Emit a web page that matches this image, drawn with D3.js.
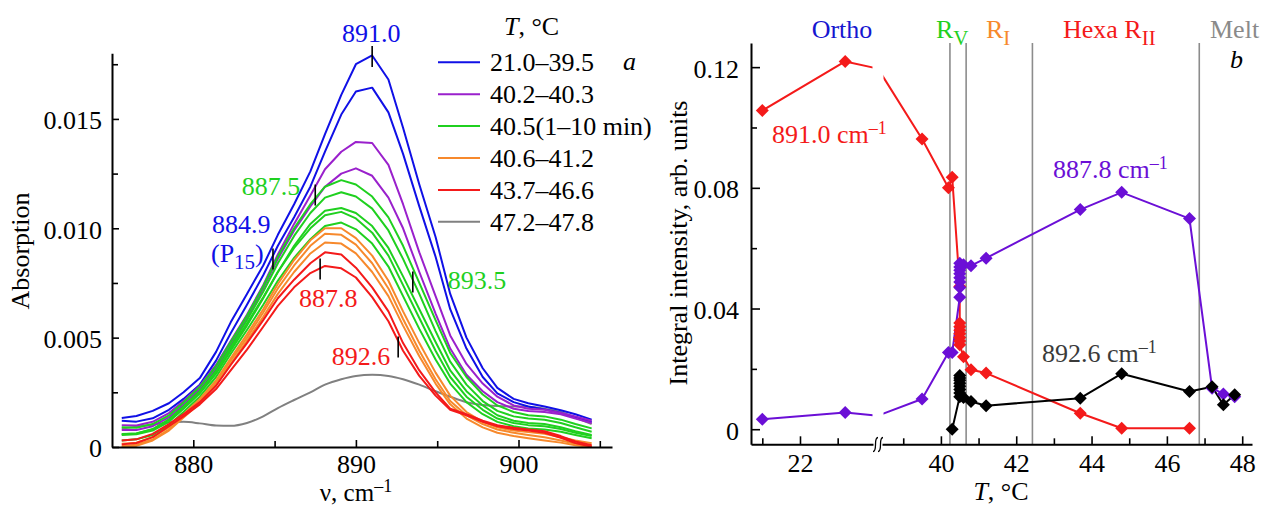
<!DOCTYPE html>
<html>
<head>
<meta charset="utf-8">
<script src="https://cdn.jsdelivr.net/npm/d3@7"></script>
<style>
  html, body { margin: 0; padding: 0; background: #fff; }
  svg { display: block; }
  svg text { font-family: "Liberation Serif", "Times New Roman", serif; }
</style>
</head>
<body>
<svg id="chart" width="1262" height="506"></svg>
<script>
// ---------- Panel a: absorption spectra (absorbance × 10³) ----------
const wavenumbers = [875.6, 876.5, 877.5, 878.5, 879.4, 880.4, 881.4, 882.3, 883.3, 884.3,
  885.2, 886.2, 887.2, 888.1, 889.1, 890.0, 891.0, 892.0, 892.9, 893.9,
  894.9, 895.8, 896.8, 897.8, 898.7, 899.7, 900.6, 901.6, 902.6, 903.5, 904.5];

const legendLabels = ["21.0–39.5", "40.2–40.3", "40.5(1–10 min)", "40.6–41.2", "43.7–46.6", "47.2–47.8"];

const blueSpectra = [
  [1.33,1.42,1.65,2.00,2.50,3.15,4.35,5.70,7.00,8.30,9.70,11.10,12.60,14.30,16.10,17.50,17.90,16.80,14.60,12.00,9.60,7.00,5.00,3.60,2.70,2.20,2.00,1.85,1.68,1.50,1.25],
  [1.20,1.16,1.31,1.70,2.20,2.85,3.95,5.20,6.50,7.85,9.20,10.50,11.90,13.50,15.20,16.25,16.43,15.30,13.40,11.00,8.70,6.30,4.50,3.20,2.45,2.05,1.85,1.72,1.55,1.35,1.15]
];
const purpleSpectra = [
  [1.00,0.98,1.15,1.55,2.10,2.80,3.75,4.85,6.05,7.40,8.80,10.20,11.50,12.70,13.50,13.95,13.90,12.90,11.10,8.90,6.90,5.10,3.80,2.90,2.30,1.90,1.75,1.70,1.55,1.40,1.20],
  [0.78,0.78,0.95,1.35,1.95,2.65,3.60,4.70,5.90,7.25,8.60,9.90,11.00,11.90,12.50,12.74,12.40,11.40,10.00,8.00,6.10,4.50,3.30,2.55,2.05,1.75,1.65,1.60,1.50,1.30,1.10]
];
const greenSpectra = [
  [0.90,0.88,1.05,1.45,2.05,2.75,3.70,4.80,6.00,7.35,8.70,10.00,11.10,11.90,12.20,12.00,11.45,10.50,9.20,7.50,5.80,4.30,3.20,2.40,1.90,1.60,1.45,1.40,1.25,1.05,0.85],
  [0.60,0.62,0.80,1.25,1.85,2.55,3.50,4.60,5.80,7.10,8.40,9.65,10.70,11.40,11.65,11.45,10.90,9.90,8.60,7.00,5.30,3.90,2.85,2.10,1.65,1.40,1.30,1.25,1.10,0.90,0.70],
  [0.55,0.58,0.75,1.15,1.75,2.45,3.35,4.40,5.55,6.80,8.00,9.20,10.20,10.80,10.93,10.70,10.10,9.10,7.80,6.30,4.80,3.50,2.55,1.90,1.45,1.20,1.10,1.05,0.90,0.72,0.55],
  [0.58,0.62,0.82,1.25,1.85,2.55,3.45,4.50,5.65,6.85,8.00,9.10,10.00,10.60,10.75,10.45,9.80,8.75,7.40,5.90,4.40,3.20,2.30,1.70,1.30,1.10,1.00,0.95,0.82,0.65,0.50],
  [0.30,0.35,0.55,1.00,1.60,2.30,3.20,4.25,5.35,6.50,7.60,8.65,9.50,10.10,10.26,9.95,9.30,8.25,6.90,5.40,4.00,2.90,2.05,1.50,1.15,0.95,0.85,0.80,0.70,0.55,0.40]
];
const orangeSpectra = [
  [0.15,0.20,0.45,0.90,1.50,2.20,3.05,4.05,5.15,6.30,7.45,8.55,9.45,10.00,10.00,9.55,8.75,7.60,6.20,4.75,3.40,2.35,1.60,1.15,0.90,0.75,0.68,0.60,0.45,0.30,0.17],
  [0.05,0.10,0.35,0.80,1.40,2.10,2.95,3.95,5.00,6.15,7.25,8.30,9.20,9.75,9.70,9.25,8.40,7.25,5.85,4.40,3.10,2.10,1.45,1.05,0.80,0.65,0.55,0.45,0.30,0.15,0.05],
  [0.00,0.05,0.30,0.75,1.35,2.00,2.85,3.80,4.85,5.95,7.00,8.00,8.85,9.35,9.30,8.85,8.00,6.90,5.55,4.15,2.90,1.95,1.30,0.90,0.65,0.50,0.40,0.30,0.20,0.08,0.00]
];
const redSpectra = [
  [0.30,0.35,0.60,1.05,1.50,2.05,2.80,3.75,4.75,5.80,6.80,7.65,8.40,8.90,8.80,8.20,7.30,6.20,4.75,3.50,2.50,1.75,1.50,1.20,1.00,0.88,0.80,0.72,0.50,0.25,0.08],
  [0.12,0.18,0.45,0.95,1.40,1.95,2.65,3.50,4.45,5.50,6.45,7.30,7.95,8.28,8.17,7.75,6.85,5.75,4.40,3.25,2.35,1.70,1.45,1.15,0.95,0.82,0.75,0.65,0.42,0.18,0.01]
];
const graySpectra = [
  [0.85,0.93,1.02,1.12,1.15,1.08,0.98,0.97,1.10,1.40,1.78,2.15,2.50,2.85,3.10,3.25,3.30,3.25,3.10,2.85,2.55,2.30,2.05,1.92,1.87,1.85,1.84,1.75,1.60,1.35,1.05]
];

// peak positions marked with short bars: wavenumber and absorbance × 10³
const peakMarks = [
  { nu: 891.0, a: 17.85, text: "891.0", color: "#1010e6" },
  { nu: 887.5, a: 11.52, text: "887.5", color: "#1fd01f" },
  { nu: 884.9, a: 8.60,  text: "884.9", color: "#1010e6" },
  { nu: 887.8, a: 8.14,  text: "887.8", color: "#f41a1a" },
  { nu: 893.5, a: 7.54,  text: "893.5", color: "#1fd01f" },
  { nu: 892.6, a: 4.57,  text: "892.6", color: "#f41a1a" }
];

const absTicks = [0, 5, 10, 15];
const absTickLabels = ["0", "0.005", "0.010", "0.015"];
const absMinorTicks = [2.5, 7.5, 12.5, 17.5];
const nuTicks = [880, 890, 900];
const nuMinorTicks = [885, 895, 905];

// ---------- Panel b: integral intensities vs temperature ----------
// 31.0 is the room-temperature reading that falls inside the axis break
const temps891 = [21.0, 23.2, 31.0, 39.5, 40.2, 40.3, 40.5, 40.5, 40.5, 40.5, 40.5, 40.5, 40.5, 40.5, 40.6, 40.8, 41.2, 43.7, 44.8, 46.6];
const int891   = [0.1056, 0.1219, 0.1195, 0.0962, 0.0800, 0.0835, 0.0473, 0.0352, 0.0340, 0.0328, 0.0316, 0.0304, 0.0292, 0.0280, 0.0240, 0.0197, 0.0186, 0.0053, 0.0003, 0.0003];

const temps887 = [21.0, 23.2, 31.0, 39.5, 40.2, 40.3, 40.5, 40.5, 40.5, 40.5, 40.5, 40.5, 40.5, 40.5, 40.6, 40.8, 41.2, 43.7, 44.8, 46.6, 47.2, 47.5, 47.8];
const int887   = [0.0033, 0.0055, 0.0045, 0.0100, 0.0254, 0.0254, 0.0437, 0.0470, 0.0488, 0.0502, 0.0515, 0.0527, 0.0538, 0.0550, 0.0545, 0.0542, 0.0567, 0.0728, 0.0785, 0.0698, 0.0136, 0.0117, 0.0108];

const temps892 = [40.3, 40.5, 40.5, 40.5, 40.5, 40.5, 40.5, 40.5, 40.5, 40.6, 40.8, 41.2, 43.7, 44.8, 46.6, 47.2, 47.5, 47.8];
const int892   = [0.0000, 0.0108, 0.0120, 0.0132, 0.0142, 0.0152, 0.0162, 0.0170, 0.0178, 0.0105, 0.0092, 0.0078, 0.0103, 0.0184, 0.0125, 0.0141, 0.0081, 0.0114];

const phaseBounds = [40.24, 40.67, 42.43, 46.86];

const intTicks = [0, 0.04, 0.08, 0.12];
const intTickLabels = ["0", "0.04", "0.08", "0.12"];
const intMinorTicks = [0.02, 0.06, 0.10];
const tempTicks = [22, 40, 42, 44, 46, 48];
const tempMinorTicks = [21, 23, 39, 41, 43, 45, 47];

// ---------- drawing ----------
const FONT_FAMILY = "Liberation Serif, Times New Roman, serif";
const FS = 26;
const C = {
  blue: "#1010e6", purple: "#9a20cc", green: "#1fd01f", orange: "#f7892c",
  red: "#f41a1a", gray: "#808080", violet: "#6b0fd6", dark: "#3a3a3a", rule: "#8c8c8c"
};

const svg = d3.select("#chart").attr("font-size", FS);

// text with optional sub/superscript parts
function richText(parent, x, y, parts, opts = {}) {
  const size0 = opts.size || FS;
  const t = parent.append("text")
    .attr("x", x).attr("y", y)
    .attr("fill", opts.fill || "#000")
    .attr("text-anchor", opts.anchor || "start")
    .attr("font-size", size0);
  let shift = 0;
  parts.forEach(p => {
    const s = t.append("tspan").text(p.t);
    let target = 0, size = size0;
    if (p.sub) { target = 7; size = 21; }
    if (p.sup) { target = -9; size = 18; }
    s.attr("dy", target - shift).attr("font-size", size);
    if (p.italic) s.attr("font-style", "italic");
    shift = target;
  });
  return t;
}

function styleAxis(g, keepDomain) {
  g.attr("font-size", FS).attr("font-family", FONT_FAMILY);
  if (keepDomain) g.select(".domain").attr("stroke", "#000").attr("stroke-width", 2);
  else g.select(".domain").remove();
  g.selectAll(".tick line").attr("stroke", "#000").attr("stroke-width", 1.6);
  g.selectAll(".tick text").attr("fill", "#000");
}

// ===== Panel a =====
const xA = d3.scaleLinear().domain([875, 905.75]).range([112, 612]);
const yA = d3.scaleLinear().domain([0, 18]).range([447, 53.3]);
const gA = svg.append("g");

const lineA = d3.line().x((d, i) => xA(wavenumbers[i])).y(d => yA(d));
const lineSmooth = d3.line().x((d, i) => xA(wavenumbers[i])).y(d => yA(d)).curve(d3.curveMonotoneX);

const families = [
  { spectra: graySpectra, color: C.gray, smooth: true },
  { spectra: blueSpectra, color: C.blue },
  { spectra: purpleSpectra, color: C.purple },
  { spectra: greenSpectra, color: C.green },
  { spectra: orangeSpectra, color: C.orange },
  { spectra: redSpectra, color: C.red }
];
families.forEach(f => {
  gA.append("g").selectAll("path").data(f.spectra).join("path")
    .attr("d", d => (f.smooth ? lineSmooth : lineA)(d))
    .attr("fill", "none")
    .attr("stroke", f.color)
    .attr("stroke-width", 2)
    .attr("stroke-linejoin", "round");
});

// peak bars
gA.append("g").selectAll("line").data(peakMarks).join("line")
  .attr("x1", d => xA(d.nu)).attr("x2", d => xA(d.nu))
  .attr("y1", d => yA(d.a) - 10.5).attr("y2", d => yA(d.a) + 10.5)
  .attr("stroke", "#000").attr("stroke-width", 1.6);

// peak labels
const pm = Object.fromEntries(peakMarks.map(d => [d.text, d]));
richText(gA, xA(891.0) - 1, 42, [{ t: "891.0" }], { fill: pm["891.0"].color, anchor: "middle" });
richText(gA, xA(887.5) - 15, 195, [{ t: "887.5" }], { fill: pm["887.5"].color, anchor: "end" });
richText(gA, xA(884.9) - 61, 233, [{ t: "884.9" }], { fill: pm["884.9"].color });
richText(gA, xA(884.9) - 62, 262, [{ t: "(P" }, { t: "15", sub: true }, { t: ")" }], { fill: pm["884.9"].color });
richText(gA, xA(887.8) + 8, 307, [{ t: "887.8" }], { fill: pm["887.8"].color, anchor: "middle" });
richText(gA, xA(893.5) + 35, 289, [{ t: "893.5" }], { fill: pm["893.5"].color });
richText(gA, xA(892.6) - 8, 365, [{ t: "892.6" }], { fill: pm["892.6"].color, anchor: "end" });

// axes
const axYA = gA.append("g").attr("transform", "translate(112,0)")
  .call(d3.axisLeft(yA).tickValues(absTicks).tickFormat((d, i) => absTickLabels[i])
    .tickSizeInner(-7).tickSizeOuter(0).tickPadding(10));
styleAxis(axYA, true);
axYA.selectAll(".tick text").attr("dy", "0.38em");
const axYAm = gA.append("g").attr("transform", "translate(112,0)")
  .call(d3.axisLeft(yA).tickValues(absMinorTicks).tickFormat("").tickSizeInner(-6).tickSizeOuter(0));
styleAxis(axYAm, false);

const axXA = gA.append("g").attr("transform", "translate(0,447)")
  .call(d3.axisBottom(xA).tickValues(nuTicks).tickFormat(d3.format("d"))
    .tickSizeInner(-7).tickSizeOuter(0).tickPadding(8));
styleAxis(axXA, true);
const axXAm = gA.append("g").attr("transform", "translate(0,447)")
  .call(d3.axisBottom(xA).tickValues(nuMinorTicks).tickFormat("").tickSizeInner(-6).tickSizeOuter(0));
styleAxis(axXAm, false);

// axis titles
gA.append("text").attr("transform", "translate(29,251) rotate(-90)")
  .attr("text-anchor", "middle").attr("font-size", FS).text("Absorption");
richText(gA, 356, 501, [{ t: "ν, cm" }, { t: "–1", sup: true }], { anchor: "middle", size: 25 });

// legend
const legend = gA.append("g");
richText(legend, 504, 35, [{ t: "T", italic: true }, { t: ", °C" }]);
const legendColors = [C.blue, C.purple, C.green, C.orange, C.red, C.gray];
legendLabels.forEach((lab, i) => {
  const y = 62.3 + i * 31.9;
  legend.append("line").attr("x1", 438).attr("x2", 480).attr("y1", y).attr("y2", y)
    .attr("stroke", legendColors[i]).attr("stroke-width", 2);
  legend.append("text").attr("x", 490).attr("y", y + 9).attr("font-size", FS).text(lab);
});
gA.append("text").attr("x", 623).attr("y", 70).attr("font-style", "italic")
  .attr("font-size", FS).text("a");

// ===== Panel b =====
const xB = d3.scaleLinear().domain([20.7, 24.07, 38.33, 48.26]).range([751, 878, 878, 1252]);
const yB = d3.scaleLinear().domain([-0.005, 0.128]).range([444.3, 43]);
const gB = svg.append("g");

// phase boundaries
gB.append("g").selectAll("line").data(phaseBounds).join("line")
  .attr("x1", d => xB(d)).attr("x2", d => xB(d))
  .attr("y1", 43).attr("y2", 444.3)
  .attr("stroke", C.rule).attr("stroke-width", 1.6);

const seriesB = [
  { t: temps891, v: int891, color: C.red },
  { t: temps887, v: int887, color: C.violet },
  { t: temps892, v: int892, color: "#000" }
];
const lineB = d3.line().x(d => xB(d[0])).y(d => yB(d[1]));
seriesB.forEach(s => {
  s.pts = s.t.map((t, i) => [t, s.v[i]]);
  gB.append("path").attr("d", lineB(s.pts))
    .attr("fill", "none").attr("stroke", s.color).attr("stroke-width", 2)
    .attr("stroke-linejoin", "round");
});

// axis break band
const breakX = xB(31);
gB.append("rect").attr("x", breakX - 5.5).attr("y", 44).attr("width", 11).attr("height", 397)
  .attr("fill", "#fff");

// diamond markers
const diamond = "M0,-6.5L6.5,0L0,6.5L-6.5,0Z";
seriesB.forEach(s => {
  gB.append("g").selectAll("path").data(s.pts.filter(p => p[0] < 24.07 || p[0] > 38.33)).join("path")
    .attr("d", diamond)
    .attr("transform", d => `translate(${xB(d[0])},${yB(d[1])})`)
    .attr("fill", s.color);
});

// axes
const axYB = gB.append("g").attr("transform", "translate(751,0)")
  .call(d3.axisLeft(yB).tickValues(intTicks).tickFormat((d, i) => intTickLabels[i])
    .tickSizeInner(-9).tickSizeOuter(0).tickPadding(12));
styleAxis(axYB, true);
axYB.selectAll(".tick text").attr("dy", "0.38em");
const axYBm = gB.append("g").attr("transform", "translate(751,0)")
  .call(d3.axisLeft(yB).tickValues(intMinorTicks).tickFormat("").tickSizeInner(-6).tickSizeOuter(0));
styleAxis(axYBm, false);

const axXB = gB.append("g").attr("transform", "translate(0,444.3)")
  .call(d3.axisBottom(xB).tickValues(tempTicks).tickFormat(d3.format("d"))
    .tickSizeInner(-8).tickSizeOuter(0).tickPadding(9.5));
styleAxis(axXB, true);
const axXBm = gB.append("g").attr("transform", "translate(0,444.3)")
  .call(d3.axisBottom(xB).tickValues(tempMinorTicks).tickFormat("").tickSizeInner(-6).tickSizeOuter(0));
styleAxis(axXBm, false);

// break marks on the temperature axis
gB.append("rect").attr("x", breakX - 4.5).attr("y", 440).attr("width", 9).attr("height", 9).attr("fill", "#fff");
[-2.5, 2.5].forEach(dx => {
  const x0 = breakX + dx;
  gB.append("path")
    .attr("d", `M${x0 + 2.5},437.5 c -1.8,0 -2.5,1.5 -2.5,7 s -0.7,7 -2.5,7`)
    .attr("fill", "none").attr("stroke", "#000").attr("stroke-width", 1.3);
});

// titles
gB.append("text").attr("transform", "translate(687,243) rotate(-90)")
  .attr("text-anchor", "middle").attr("font-size", FS).text("Integral intensity, arb. units");
richText(gB, 1001, 500, [{ t: "T", italic: true }, { t: ", °C" }], { anchor: "middle" });

// phase names
richText(gB, 842, 38, [{ t: "Ortho" }], { fill: "#1616d0", anchor: "middle" });
richText(gB, 936, 38, [{ t: "R" }, { t: "V", sub: true }], { fill: C.green });
richText(gB, 986, 38, [{ t: "R" }, { t: "I", sub: true }], { fill: C.orange });
richText(gB, 1063, 38, [{ t: "Hexa R" }, { t: "II", sub: true }], { fill: C.red });
richText(gB, 1210, 38, [{ t: "Melt" }], { fill: "#8a8a8a" });
gB.append("text").attr("x", 1230).attr("y", 68).attr("font-style", "italic")
  .attr("font-size", FS).text("b");

// series labels
richText(gB, 772, 143, [{ t: "891.0 cm" }, { t: "–1", sup: true }], { fill: C.red });
richText(gB, 1053, 178, [{ t: "887.8 cm" }, { t: "–1", sup: true }], { fill: C.violet });
richText(gB, 1042, 362, [{ t: "892.6 cm" }, { t: "–1", sup: true }], { fill: C.dark });
</script>
</body>
</html>
